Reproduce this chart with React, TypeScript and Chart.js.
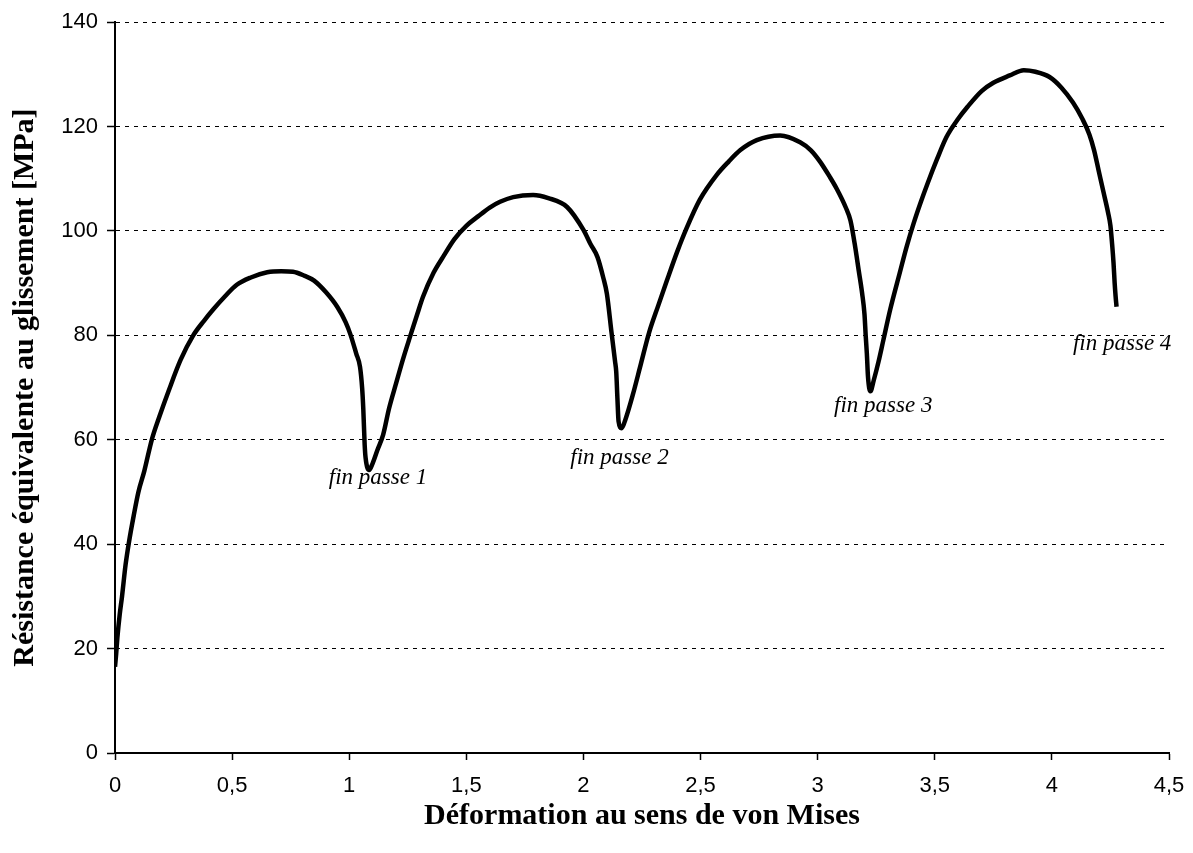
import React, { useEffect, useRef } from "react";
import { Chart, registerables } from "chart.js";

Chart.register(...registerables);

// Déformation au sens de von Mises (x)
const deformation: number[] = [
  0.0, 0.005, 0.01, 0.02, 0.03, 0.045, 0.06, 0.08, 0.1, 0.125, 0.157, 0.19, 0.23, 0.28, 0.334, 0.38, 0.42, 0.47,
  0.52, 0.58, 0.65, 0.71, 0.76, 0.81, 0.85, 0.9, 0.95, 0.985, 1.005, 1.03, 1.046, 1.055, 1.06, 1.066, 1.07, 1.085,
  1.1, 1.12, 1.145, 1.17, 1.2, 1.23, 1.26, 1.29, 1.315, 1.36, 1.4, 1.45, 1.5, 1.55, 1.6, 1.644, 1.7, 1.785, 1.85,
  1.93, 2.0, 2.03, 2.06, 2.085, 2.1, 2.12, 2.135, 2.14, 2.145, 2.15, 2.163, 2.18, 2.21, 2.245, 2.28, 2.32, 2.357,
  2.4, 2.44, 2.497, 2.57, 2.62, 2.67, 2.74, 2.84, 2.925, 2.97, 3.01, 3.05, 3.08, 3.12, 3.14, 3.16, 3.175, 3.19,
  3.2, 3.205, 3.21, 3.215, 3.225, 3.24, 3.26, 3.28, 3.31, 3.35, 3.38, 3.41, 3.44, 3.47, 3.51, 3.55, 3.6, 3.64,
  3.7, 3.75, 3.82, 3.88, 3.93, 3.99, 4.04, 4.09, 4.13, 4.16, 4.18, 4.2, 4.22, 4.24, 4.25, 4.258, 4.263, 4.268,
  4.272, 4.276,
];

// Résistance équivalente au glissement [MPa] (y)
const resistance: number[] = [
  16.5, 19, 22, 26.5, 30, 36, 40.5, 45.5, 50, 54, 60, 64.5, 69.5, 75.3, 80, 82.8, 85, 87.5,
  89.7, 91.1, 92.1, 92.3, 92.2, 91.4, 90.5, 88.3, 85.4, 82.5, 80.2, 76.5, 74, 70, 66, 59, 56.5, 54.2,
  55.5, 58, 61, 66, 70.8, 75.5, 79.8, 84, 87.4, 92, 95, 98.5, 101, 102.8, 104.5, 105.6, 106.5, 106.9, 106.3,
  104.6, 100.2, 97.5, 95, 91, 88, 80.5, 75, 73, 68, 63.5, 62.2, 64, 68.5, 74.5, 80.5, 85.8, 90.6,
  96, 100.5, 106, 110.8, 113.3, 115.5, 117.4, 118.3, 117, 115.5, 113.3, 110.5, 108.2, 104.5, 102, 97, 92.5, 88,
  84, 80, 76.5, 72, 69.3, 71.5, 75, 79, 85, 91.9, 97, 101.5, 105.5, 109.2, 113.8, 118, 121.5, 123.8,
  126.8, 128.4, 129.8, 130.8, 130.5, 129.5, 127.5, 124.6, 121.5, 118.5, 115.5, 111.5, 107.5, 103.5, 101, 97, 94, 90,
  87.5, 85.5,
];

// Annotations
const noteTexts: string[] = ["fin passe 1", "fin passe 2", "fin passe 3", "fin passe 4"];
const noteX: number[] = [1.123, 2.154, 3.28, 4.3];
const noteY: number[] = [52.7, 56.5, 66.5, 78.4];

const xTicksMin = 0;
const xTicksMax = 4.5;
const xStep = 0.5;
const yTicksMin = 0;
const yTicksMax = 140;
const yStep = 20;

const xTitle = "Déformation au sens de von Mises";
const yTitle = "Résistance équivalente au glissement [MPa]";

const fmt = (v: number | string) => String(v).replace(".", ",");

const notesPlugin = {
  id: "notes",
  afterDatasetsDraw(chart: any) {
    const { ctx, scales } = chart;
    ctx.save();
    ctx.font = "italic 23px 'Liberation Serif', 'Times New Roman', serif";
    ctx.fillStyle = "#000";
    ctx.textAlign = "center";
    ctx.textBaseline = "middle";
    noteTexts.forEach((t, i) => {
      ctx.fillText(t, scales.x.getPixelForValue(noteX[i]), scales.y.getPixelForValue(noteY[i]));
    });
    ctx.restore();
  },
};

export default function App() {
  const ref = useRef<HTMLCanvasElement | null>(null);

  useEffect(() => {
    if (!ref.current) return;
    const points = deformation.map((x, i) => ({ x, y: resistance[i] }));
    const chart = new Chart(ref.current, {
      type: "line",
      data: {
        datasets: [
          {
            data: points,
            borderColor: "#000",
            borderWidth: 4.5,
            pointRadius: 0,
            cubicInterpolationMode: "monotone",
            fill: false,
          },
        ],
      },
      options: {
        responsive: false,
        animation: false,
        layout: { padding: { top: 22, right: 24, bottom: 0, left: 0 } },
        plugins: {
          legend: { display: false },
          tooltip: { enabled: false },
          title: { display: false },
        },
        scales: {
          x: {
            type: "linear",
            min: xTicksMin,
            max: xTicksMax,
            afterFit: (s: any) => {
              s.height = 100;
              s.paddingLeft = 0;
              s.paddingRight = 0;
            },
            ticks: {
              stepSize: xStep,
              color: "#000",
              padding: 13,
              font: { family: "'Liberation Sans', Arial, sans-serif", size: 22 },
              callback: (v: any) => fmt(v),
            },
            grid: {
              drawOnChartArea: false,
              drawTicks: true,
              tickLength: 7,
              tickColor: "#000",
              tickWidth: 1.5,
            },
            border: { display: true, color: "#000", width: 2 },
            title: {
              display: true,
              text: xTitle,
              color: "#000",
              font: { family: "'Liberation Serif', 'Times New Roman', serif", size: 30, weight: "bold" },
              padding: { top: 0, bottom: 19 },
            },
          },
          y: {
            type: "linear",
            min: yTicksMin,
            max: yTicksMax,
            afterFit: (s: any) => {
              s.width = 115;
            },
            ticks: {
              stepSize: yStep,
              color: "#000",
              padding: 9,
              font: { family: "'Liberation Sans', Arial, sans-serif", size: 22 },
              callback: (v: any) => fmt(v),
            },
            grid: {
              color: "#000",
              lineWidth: 1,
              drawTicks: true,
              tickLength: 8,
              tickColor: "#000",
              tickWidth: 1.5,
              tickBorderDash: [],
            },
            border: { display: true, color: "#000", width: 2, dash: [4, 5] },
            title: {
              display: true,
              text: yTitle,
              color: "#000",
              font: { family: "'Liberation Serif', 'Times New Roman', serif", size: 30, weight: "bold" },
              padding: { top: 7, bottom: 0 },
            },
          },
        },
      },
      plugins: [notesPlugin],
    });
    return () => chart.destroy();
  }, []);

  return (
    <div style={{ position: "absolute", left: 0, top: 0, width: 1193, height: 853, background: "#fff" }}>
      <canvas ref={ref} width={1193} height={853} style={{ display: "block" }} />
    </div>
  );
}
